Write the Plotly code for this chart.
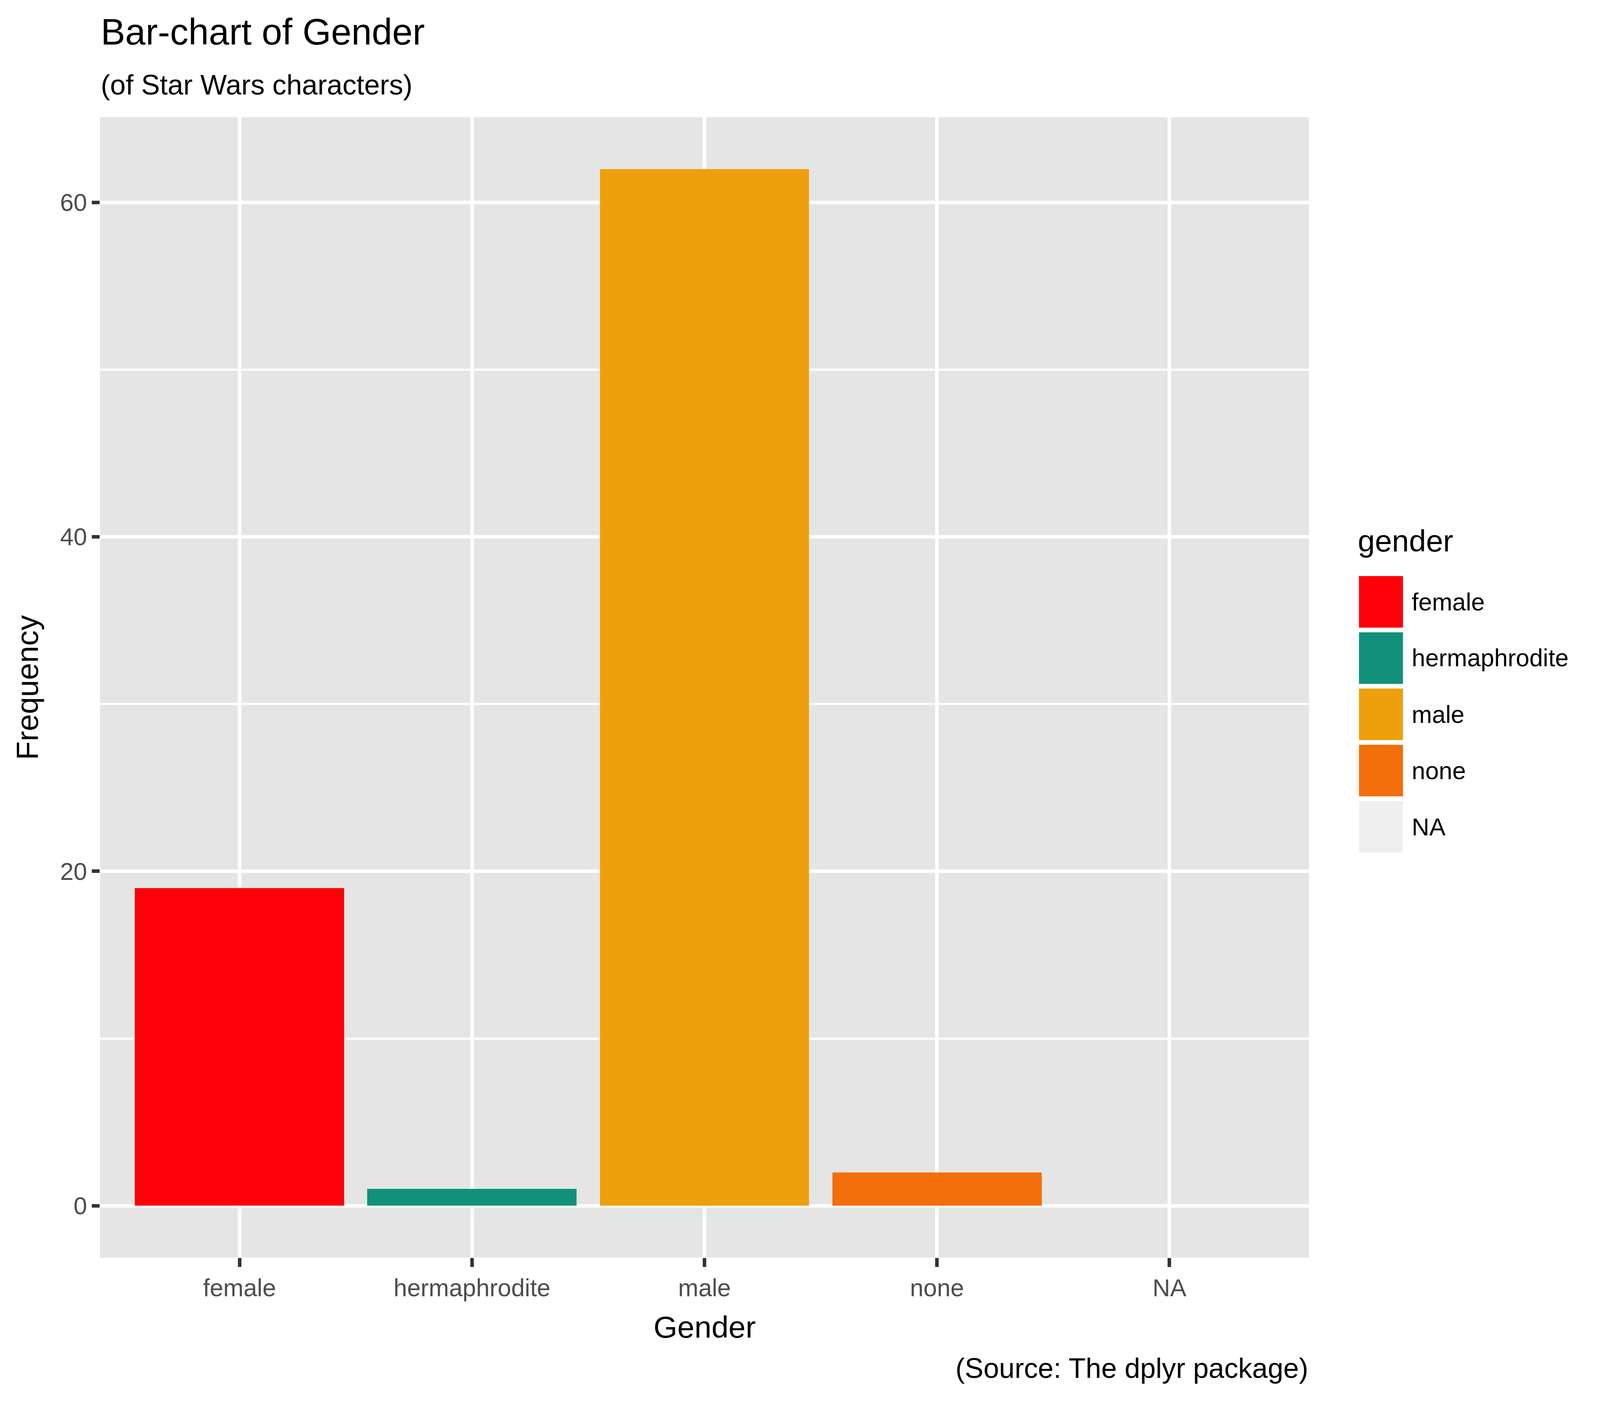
import plotly.graph_objects as go

# counts of the starwars characters per gender (NA bar is not drawn)
genders = ["female", "hermaphrodite", "male", "none", "NA"]
counts = [19, 1, 62, 2, None]
colours = ["#FD0008", "#12917A", "#EDA00C", "#F26F0B", "#EFEFEF"]
y_ticks = [0, 20, 40, 60]
y_minor = [10, 30, 50]

title = "Bar-chart of Gender"
subtitle = "(of Star Wars characters)"
caption = "(Source: The dplyr package)"

# positions are read off the 4800x3600 reference, then mapped to the page:
# the browser shows about 4096 x 3600 css px and the body has an 8px margin
KX = 4096 / 4800
KY = 1.0
BODY = 8
FIG_W, FIG_H = 4080, 3584

W, H = 4800, 3600
PANEL = (300, 3927, 300, 3220)  # left, right, top, bottom in reference px
FONT = "Liberation Sans, Arial, Helvetica, sans-serif"

left = PANEL[0] * KX - BODY
right = FIG_W - (PANEL[1] * KX - BODY)
top = PANEL[2] * KY - BODY
bottom = FIG_H - (PANEL[3] * KY - BODY)


def fs(v):
    return v * KX


def px_x(p):
    return (p - PANEL[0]) / (PANEL[1] - PANEL[0])


def px_y(p):
    return (PANEL[3] - p) / (PANEL[3] - PANEL[2])


fig = go.Figure()
fig.add_trace(go.Bar(
    x=genders, y=counts, width=0.9,
    marker=dict(color=colours, line=dict(width=0)),
    showlegend=False,
))

annotations = [
    dict(text=title, x=px_x(300), y=px_y(82), xanchor="left", yanchor="middle",
         font=dict(size=fs(110), color="black")),
    dict(text=subtitle, x=px_x(300), y=px_y(217), xanchor="left", yanchor="middle",
         font=dict(size=fs(84), color="black")),
    dict(text=caption, x=px_x(3927), y=px_y(3503), xanchor="right", yanchor="middle",
         font=dict(size=fs(84), color="black")),
    dict(text="Gender", x=0.5, y=px_y(3398), xanchor="center", yanchor="middle",
         font=dict(size=fs(92), color="black")),
    dict(text="Frequency", x=px_x(82), y=0.5, xanchor="center", yanchor="middle",
         textangle=-90, font=dict(size=fs(92), color="black")),
    dict(text="gender", x=px_x(4071), y=px_y(1385), xanchor="left", yanchor="middle",
         font=dict(size=fs(92), color="black")),
]

shapes = []
for i, (g, c) in enumerate(zip(genders, colours)):
    cy = 1541 + 144 * i
    shapes.append(dict(type="rect", xref="paper", yref="paper",
                       x0=px_x(4077), x1=px_x(4209),
                       y0=px_y(cy + 66), y1=px_y(cy - 66),
                       fillcolor=c, line=dict(width=0), layer="above"))
    annotations.append(dict(text=g, x=px_x(4233), y=px_y(cy), xanchor="left",
                            yanchor="middle", font=dict(size=fs(73), color="black")))

for a in annotations:
    a.update(xref="paper", yref="paper", showarrow=False)

fig.update_layout(
    width=FIG_W, height=FIG_H,
    margin=dict(l=left, r=right, t=top, b=bottom, pad=0),
    paper_bgcolor="white",
    plot_bgcolor="#E5E5E5",
    font=dict(family=FONT),
    bargap=0,
    annotations=annotations,
    shapes=shapes,
)

fig.update_xaxes(
    type="category", categoryorder="array", categoryarray=genders,
    range=[-0.6, 4.6],
    showgrid=True, gridcolor="white", gridwidth=9,
    ticks="outside", ticklen=23 * KY, tickwidth=9, tickcolor="#333333",
    tickfont=dict(size=fs(73), color="#4D4D4D"),
    showline=False, zeroline=False,
)
fig.update_yaxes(
    range=[-3.1, 65.1],
    tickvals=y_ticks,
    showgrid=True, gridcolor="white", gridwidth=9,
    minor=dict(tickvals=y_minor, showgrid=True, gridcolor="white", gridwidth=4.5, ticks=""),
    ticks="outside", ticklen=23 * KX, tickwidth=9, tickcolor="#333333",
    tickfont=dict(size=fs(73), color="#4D4D4D"),
    showline=False, zeroline=False,
)

fig.write_html("out.html")
